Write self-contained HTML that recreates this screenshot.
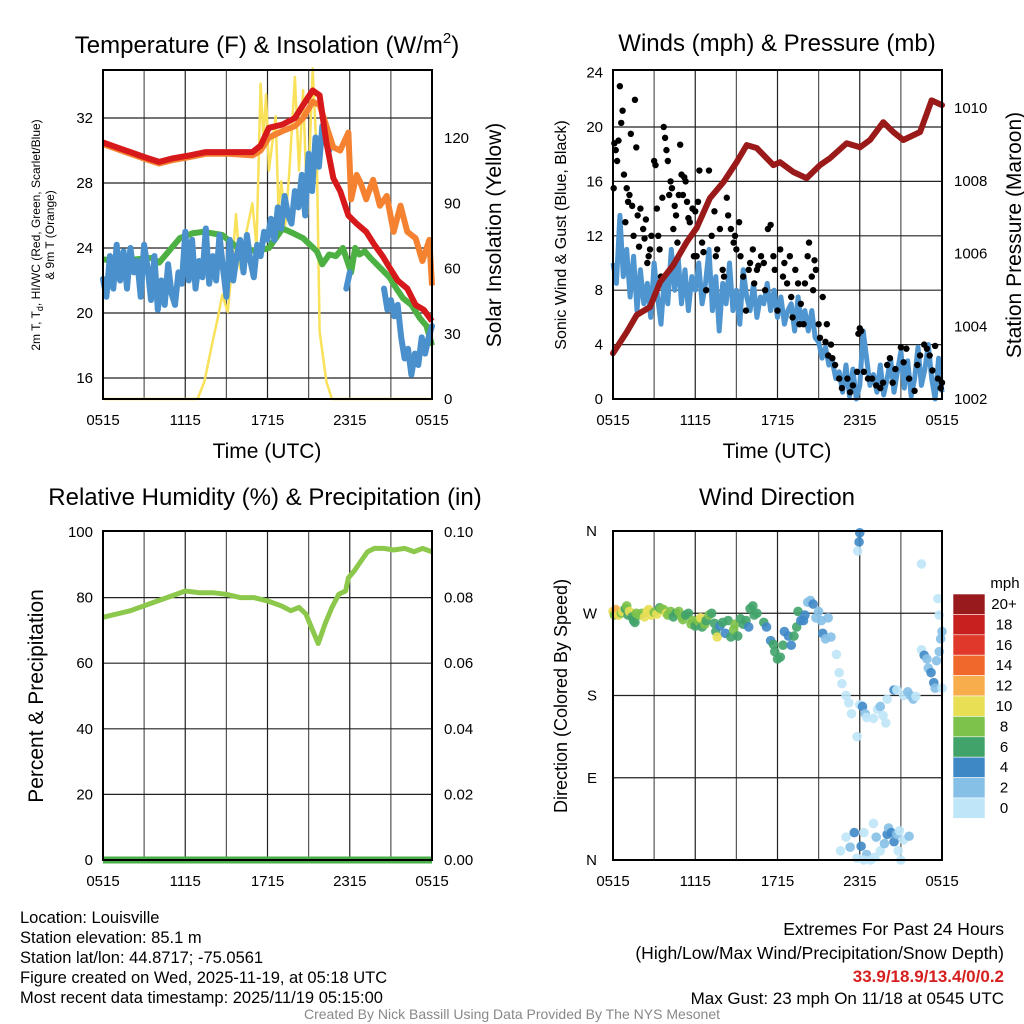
<!DOCTYPE html>
<html><head><meta charset="utf-8"><style>
body{margin:0;background:#fff;}
svg{display:block;font-family:"Liberation Sans",sans-serif;}
</style></head><body>
<svg id="chart" width="1024" height="1024" viewBox="0 0 1024 1024"></svg>
<script>
// ---------- DATA ----------
// Panel 1: temperatures (F), time in hours since 0515 UTC
const redH=[0,1,2,3,4.1,5,6.3,7.5,9.2,10.9,11.5,12.1,13.1,14,14.6,15.3,15.8,16.3,16.8,17.3,17.9,18.5,19.2,19.8,20.4,20.9,21.5,22.2,22.8,23.4,24];
const redT=[30.5,30.2,29.9,29.6,29.3,29.5,29.7,29.9,29.9,29.9,30.3,31.4,31.6,32,32.8,33.7,33.4,30.5,28.3,27.5,26,25.5,25,24.2,23.5,22.8,22,21.5,20.5,20.2,19.5];
const orgH=[0,1,2,3,4.1,5,6.3,7.5,9.2,10.9,11.5,12.1,13.1,14,14.6,15.3,15.8,16.3,16.8,17.3,17.9,18.1,18.5,18.8,19.2,19.7,20.2,20.7,21.2,21.7,22.2,22.8,23.3,23.8,24];
const orgT=[30.4,30.1,29.8,29.5,29.2,29.4,29.6,29.8,29.8,29.7,30,30.8,31.2,31.5,32,33,32.8,31.5,30.2,30,31.1,27,28.5,28,27,28.2,26.6,27.2,25,26.6,25,24.6,23.2,24.5,21.7];
const grnH=[0,1,2.4,3.6,4.1,5,5.6,6.5,7.3,8.7,9.7,11.2,12.1,13.1,13.9,14.6,15.6,16,16.5,17,17.5,18.1,18.4,18.7,19.1,19.5,20.2,20.9,21.4,21.9,22.5,23.1,23.6,24];
const grnT=[23.3,23.2,23.3,23.4,23.1,24,24.6,24.9,25,24.8,24.1,23.8,24,25.2,24.9,24.6,23.8,23,23.6,23.5,24,22.5,24,23.6,23.8,23.4,22.8,22.2,21.5,20.9,20.5,19.7,19.2,18];
const blueT=[22.1,21,23.5,21.5,24.2,22,23.8,21.5,24,
22.5,23.2,21,24.2,22.8,20.8,23.5,20.2,
22,20.5,23,21.2,20.5,22.5,21.8,25,
22,24.5,21.5,23.2,22.2,25.2,21.8,23.5,
22,24.8,22.8,21,24.5,22,23.5,24.5,
22.5,24.8,23.2,22.2,24.2,23.5,25,24.5,
25.8,24.5,26.5,25.2,27.2,26,25.5,27.5,
26.5,28.5,26,29.8,27.5,30.8,29,31.5,
30.5,30,null,null,null,null,21.5,22.5,
null,null,null,null,null,null,null,null,null,
21.5,20.2,20.8,19.8,20.5,18.5,17.2,17.8,16.2,17.5,16.8,18.5,17.5,18.5,19.2];
const solarH=[0,6.9,7.4,7.9,8.4,8.7,9.1,9.4,9.7,10,10.4,10.9,11.2,11.5,11.7,11.9,12.1,12.3,12.6,12.8,13,13.3,13.6,14,14.3,14.6,14.9,15.3,15.6,15.8,16.3,16.7,24];
const solarW=[0,0,8,23.5,38,48,40,60,85,60,75,90,70,145,120,140,105,115,130,87,100,80,105,148,105,142,85,152,110,31,8,0,0];
// Panel 2: winds (mph) and pressure (mb)
const windV=[10,8.5,13.5,9,11,7.5,10.5,6.5,9.5,
7,8.5,6,10,7.5,5.5,9,7,
11,8,10.5,7,9.5,6.5,9,8,
10,7,8.5,11,6.5,9,5,8.5,
7,10,6.5,8,5.5,9.5,7.5,6.5,
8.5,6,7.5,7,8.5,6.5,8,6,
7.5,5.5,6.5,7,5,7.5,5.5,6.5,
5,6.5,4.5,4.2,3,3.8,2.5,2.8,
1.5,2,0.5,2.5,0.2,2.2,0,1,
5,3,1,1.8,0.5,2.5,0.3,1.5,
3,0.5,2,3.5,0.8,2.8,0.2,1.5,
3.8,1,2.2,4,1.5,0,3,0.5];
const gustH=[0.05,0.1,0.2,0.3,0.4,0.5,0.6,0.7,0.8,0.9,1.0,1.1,1.2,1.3,1.4,1.5,1.6,1.7,1.8,1.9,2.0,2.2,2.3,2.4,2.5,2.6,2.7,2.8,3.0,3.1,3.2,3.3,3.4,3.5,3.6,3.7,3.8,3.9,4.0,4.1,4.2,4.3,4.4,4.5,4.6,4.7,4.8,4.9,5.0,5.1,5.2,5.3,5.4,5.5,5.6,5.8,5.9,6.0,6.1,6.2,6.3,6.5,6.6,6.8,7.0,7.2,7.4,7.5,7.6,7.8,8.0,8.1,8.3,8.4,8.6,8.8,8.9,9.0,9.2,9.3,9.5,9.7,9.9,10.0,10.2,10.3,10.5,10.6,10.8,11.0,11.1,11.3,11.5,11.7,11.8,12.0,12.2,12.4,12.5,12.7,12.9,13.0,13.1,13.3,13.5,13.6,13.7,13.9,14.0,14.2,14.3,14.5,14.6,14.7,14.8,15.0,15.1,15.3,15.5,15.6,15.7,15.9,16.0,16.2,16.5,16.7,17.1,17.3,17.5,17.8,17.9,18.0,18.1,18.3,18.6,18.9,19.2,19.5,19.7,20.0,20.2,20.4,20.6,21.0,21.2,21.4,21.6,22.0,22.2,22.4,22.7,22.9,23.1,23.3,23.5,23.7,23.9,24.0];
const gustV=[15.5,18.8,18.3,17.5,19,23,20.3,21.2,16.5,13,15.5,14.5,15,19.5,14.2,12,22,18.5,13.5,11.2,14,12.5,11.8,13.2,10,10.5,11,12,17.5,17.2,14,12,11,9,14.8,20,19.2,18.3,17.5,15,16,15.5,12.5,14.2,13.5,11.5,15,18.7,16.5,15,16.3,16,14.5,13.3,13,14,10.5,13.8,10.5,14.5,16.8,11.5,10.8,8,16.8,12,13.8,10.5,11,12.5,9.5,9,14.8,13.5,12.5,11.5,12,11,13,10.5,9,6.5,9.5,10,11,8.5,9.5,9.8,10.5,10,8,12.5,12.8,10.5,9.5,6.5,11,9,10,8.5,10.5,7.5,6,9.5,8.5,5.5,7,5.5,8.5,10.5,11.5,9,8,10.2,9.5,5.5,4.5,7.5,4.2,5.5,3.2,4,3,2.5,1.5,0.8,1.5,0.5,1,2,4.8,5.2,5,2,1.5,1.5,1,0.8,1.2,2.5,3,1.2,2.2,3.8,2.7,3.7,1.5,0.6,2.5,3.2,4,3.7,3.2,2.1,3.9,1.5,0.8,1.2];
const presH=[0,1.0,1.73,2.7,3.43,4.4,5.37,6.1,7.07,8.05,9.02,9.75,10.48,11.7,12.18,13.15,14.12,15.1,15.83,17.04,18.02,18.75,19.72,20.45,21.18,22.4,23.24,24];
const presMb=[1003.26,1003.84,1004.31,1004.53,1005.21,1005.68,1006.31,1006.7,1007.52,1007.96,1008.51,1008.98,1008.9,1008.43,1008.51,1008.24,1008.07,1008.43,1008.62,1009.03,1008.92,1009.12,1009.61,1009.34,1009.12,1009.34,1010.21,1010.08];
// Panel 3: RH (%) and precip (in)
const rhH=[0,1,2,3,4,5,6,7,8,9,10,11,12,13,13.7,14.3,14.8,15.3,15.7,16.2,16.7,17.2,17.7,17.9,18.3,18.8,19.3,19.8,20.5,21.2,22,22.7,23.3,24];
const rhV=[74,75,76,77.5,79,80.5,82,81.5,81.5,81,80,80,79,77.5,76,77,75,70,66,72,77,81,82,86,88,91,94,95,95,94.5,95,94,95,94];
const precipH=[0,24];
const precipV=[0,0];
// Panel 4: wind direction (deg) colored by speed (mph)
const dirH=[0,0.1,0.2,0.3,0.4,0.6,0.7,0.9,1.0,1.1,1.2,1.4,1.5,1.6,1.7,1.9,2.1,2.3,2.5,2.6,2.8,3.0,3.2,3.4,3.5,3.7,3.9,4.0,4.2,4.4,4.6,4.8,5.0,5.1,5.3,5.5,5.7,5.8,6.0,6.2,6.4,6.5,6.7,6.8,7.0,7.2,7.4,7.5,7.6,7.8,8.0,8.2,8.4,8.6,8.8,8.9,9.1,9.3,9.5,9.7,9.9,10.0,10.2,10.3,10.5,11.0,11.2,11.5,11.7,11.8,12.0,12.2,12.4,12.5,12.8,13.0,13.2,13.4,13.5,13.7,13.9,14.0,14.2,14.4,14.6,14.8,15.0,15.2,15.3,15.5,15.7,15.9,16.3,16.5,16.7,17.0,17.2,17.4,17.8,18.0,18.2,18.4,18.5,19.0,19.3,19.5,19.7,19.9,20.0,20.5,20.7,21.2,21.5,21.7,21.9,22.1,22.5,22.7,22.9,23.0,23.2,23.4,23.5,23.6,23.8,23.9,24.0,24.0,23.8,23.7,22.5,18.0,17.95,17.85,16.6,17.0,17.3,17.6,17.8,18.1,18.3,18.5,18.8,19.0,19.2,19.5,19.8,20.0,20.1,20.3,20.5,20.7,20.8,21.0,19.1,18.3,21.2,21.6,20.9];
const dirDeg=[272,268,274,270,268,270,272,275,278,268,272,266,262,260,270,268,270,266,272,274,268,271,269,276,275,274,270,268,272,266,270,272,266,263,268,270,258,262,256,262,265,255,258,262,268,270,259,250,244,256,260,248,262,244,252,258,245,264,258,262,255,275,278,268,270,260,255,240,236,228,220,222,235,250,245,235,245,255,272,262,262,268,282,284,280,265,272,262,248,242,265,244,225,205,193,180,172,160,135,170,168,160,156,155,165,168,158,150,176,186,186,180,184,180,176,179,230,224,220,210,205,194,188,218,228,242,250,188,268,286,324,358,348,338,10,25,14,30,2,15,30,6,0,40,25,10,18,28,35,30,20,28,10,0,3,0,22,26,32];
const dirSpd=[10,9,12,13,11,8,10,6,8,7,10,7,7,6,8,8,9,10,10,10,11,8,10,7,8,8,10,9,8,7,6,8,8,9,7,6,8,8,7,8,10,6,8,7,8,6,6,6,10,5,7,5,6,6,8,8,6,7,6,6,5,6,6,6,6,6,4,4,6,6,6,6,6,5,4,4,6,6,6,4,4,4,3,3,4,3,3,3,4,3,3,2,1,1,1,1,1,1,1,1,4,3,1,1,1,2,1,1,1,4,1,1,2,3,3,1,1,4,3,3,4,4,2,2,2,2,3,1,1,1,1,4,4,1,1,1,2,4,1,4,1,3,1,1,2,1,2,4,3,4,4,2,1,1,1,1,1,3,1];
const xTickLabels=["0515","1115","1715","2315","0515"];
const cbLabels=["20+","18","16","14","12","10","8","6","4","2","0"];
const cbColors=["#981a1c","#c8201f","#e0392b","#f0682c","#f8ad4c","#e8df55","#7dc24a","#41a36a","#3f88c6","#86c0e7","#bfe5f8"];

// ---------- HELPERS ----------
const NS="http://www.w3.org/2000/svg";
const svg=document.getElementById('chart');
function mk(tag,attrs,parent,text){const e=document.createElementNS(NS,tag);for(const k in attrs)e.setAttribute(k,attrs[k]);if(text!==undefined)e.textContent=text;(parent||svg).appendChild(e);return e;}
function lin(d0,d1,r0,r1){return v=>r0+(v-d0)*(r1-r0)/(d1-d0);}
function pathFrom(xs,ys,fx,fy){let d="",pen=false;for(let i=0;i<xs.length;i++){if(ys[i]===null){pen=false;continue;}d+=(pen?"L":"M")+fx(xs[i]).toFixed(1)+","+fy(ys[i]).toFixed(1);pen=true;}return d;}
function spdColor(s){let idx=Math.min(10,Math.floor(s/2));return cbColors[10-idx];}

function frame(g,x0,y0,x1,y1,hLines){
  for(let k=1;k<8;k++){const x=x0+(x1-x0)*k/8;
    const l=mk('line',{x1:x,y1:y0,x2:x,y2:y1,stroke:k%2?'#555':'#222','stroke-width':1.2},g);
    
    }
  hLines.forEach(y=>{const l=mk('line',{x1:x0,y1:y,x2:x1,y2:y,stroke:'#222','stroke-width':1.2},g);
    
    });
}
function border(g,x0,y0,x1,y1){const r=mk('rect',{x:x0,y:y0,width:x1-x0,height:y1-y0,fill:'none',stroke:'#000','stroke-width':2},g);
  
  }
function xTicks(g,x0,x1,y){xTickLabels.forEach((t,i)=>{const x=x0+(x1-x0)*i/4;
  const e=mk('text',{x:x,y:y,'font-size':15,'text-anchor':'middle'},g,t);
  
  });}
function txt(g,x,y,s,size,anchor,name,extra){const e=mk('text',Object.assign({x:x,y:y,'font-size':size,'text-anchor':anchor||'start'},extra||{}),g,s);
  
  return e;}

// ---------- PANEL 1 ----------
(function(){
  const g=mk('g',{});
  
  
  const X0=103,X1=432,Y0=70,Y1=399;
  const fx=lin(0,24,X0,X1), fy=lin(16,32,378,118), fw=lin(0,120,399,138);
  frame(g,X0,Y0,X1,Y1,[16,20,24,28,32].map(fy));
  const ys=mk('path',{d:pathFrom(solarH,solarW,fx,fw),fill:'none',stroke:'#f9e15a','stroke-width':2.5,'stroke-linejoin':'round'},g);
  
  
  const go=mk('path',{d:pathFrom(grnH,grnT,fx,fy),fill:'none',stroke:'#4cb043','stroke-width':6,'stroke-linejoin':'round'},g);
  
  
  const bh=blueT.map((v,i)=>i*0.25);
  const bl=mk('path',{d:pathFrom(bh,blueT,fx,fy),fill:'none',stroke:'#4a90cc','stroke-width':6,'stroke-linejoin':'round','stroke-linecap':'round'},g);
  
  
  const or=mk('path',{d:pathFrom(orgH,orgT,fx,fy),fill:'none',stroke:'#f58230','stroke-width':6,'stroke-linejoin':'round'},g);
  
  
  const rd=mk('path',{d:pathFrom(redH,redT,fx,fy),fill:'none',stroke:'#d7191c','stroke-width':6,'stroke-linejoin':'round'},g);
  
  
  border(g,X0,Y0,X1,Y1);
  [16,20,24,28,32].forEach(v=>txt(g,X0-10,fy(v)+5,String(v),15,'end','left-y-tick-label'));
  [0,30,60,90,120].forEach(v=>txt(g,X1+12,fw(v)+5,String(v),15,'start','right-y-tick-label'));
  xTicks(g,X0,X1,425);
  txt(g,267,458,'Time (UTC)',21,'middle','x-axis-title');
  const t=txt(g,267,53,'Temperature (F) & Insolation (W/m',24,'middle','panel-title');
  mk('tspan',{dy:-10,'font-size':15},t,'2');
  mk('tspan',{dy:10},t,')');
  const yl=txt(g,0,0,'',12,'middle','left-y-axis-title',{transform:'translate(40,235) rotate(-90)'});
  yl.innerHTML='2m T, T<tspan font-size="9" dy="3">d</tspan><tspan dy="-3">, HI/WC (Red, Green, Scarlet/Blue)</tspan>';
  txt(g,0,0,'& 9m T (Orange)',12,'middle','left-y-axis-title-line2',{transform:'translate(54,235) rotate(-90)'});
  txt(g,0,0,'Solar Insolation (Yellow)',21,'middle','right-y-axis-title',{transform:'translate(501,235) rotate(-90)'});
})();

// ---------- PANEL 2 ----------
(function(){
  const g=mk('g',{});
  
  
  const X0=613,X1=942,Y0=70,Y1=399;
  const fx=lin(0,24,X0,X1), fy=lin(0,24,399,72.6), fp=lin(1002,1010,399,108);
  frame(g,X0,Y0,X1,Y1,[4,8,12,16,20].map(fy));
  const wh=windV.map((v,i)=>i*0.25);
  const wl=mk('path',{d:pathFrom(wh,windV,fx,fy),fill:'none',stroke:'#4f95d0','stroke-width':5,'stroke-linejoin':'round'},g);
  
  
  gustH.forEach((h,i)=>{const c=mk('circle',{cx:fx(h),cy:fy(gustV[i]),r:3.2,fill:'#000'},g);
    
    });
  const pl=mk('path',{d:pathFrom(presH,presMb,fx,fp),fill:'none',stroke:'#9a1a1a','stroke-width':6,'stroke-linejoin':'round','stroke-linecap':'round'},g);
  
  
  border(g,X0,Y0,X1,Y1);
  [0,4,8,12,16,20,24].forEach(v=>txt(g,X0-10,fy(v)+5,String(v),15,'end','left-y-tick-label'));
  [1002,1004,1006,1008,1010].forEach(v=>txt(g,X1+12,fp(v)+5,String(v),15,'start','right-y-tick-label'));
  xTicks(g,X0,X1,425);
  txt(g,777,458,'Time (UTC)',21,'middle','x-axis-title');
  txt(g,777,51,'Winds (mph) & Pressure (mb)',24,'middle','panel-title');
  txt(g,0,0,'Sonic Wind & Gust (Blue, Black)',16,'middle','left-y-axis-title',{transform:'translate(566,235) rotate(-90)'});
  txt(g,0,0,'Station Pressure (Maroon)',21,'middle','right-y-axis-title',{transform:'translate(1021,235) rotate(-90)'});
})();

// ---------- PANEL 3 ----------
(function(){
  const g=mk('g',{});
  
  
  const X0=103,X1=432,Y0=531,Y1=860;
  const fx=lin(0,24,X0,X1), fy=lin(0,100,860,532), fp=lin(0,0.1,860,532);
  frame(g,X0,Y0,X1,Y1,[20,40,60,80].map(fy));
  const rl=mk('path',{d:pathFrom(rhH,rhV,fx,fy),fill:'none',stroke:'#8cc84b','stroke-width':5,'stroke-linejoin':'round'},g);
  
  
  const pp=mk('path',{d:pathFrom(precipH,precipV,fx,fp),fill:'none',stroke:'#4aae48','stroke-width':7},g);
  
  
  border(g,X0,Y0,X1,Y1);
  [0,20,40,60,80,100].forEach(v=>txt(g,X0-10,fy(v)+5,String(v),15,'end','left-y-tick-label'));
  [0,0.02,0.04,0.06,0.08,0.1].forEach(v=>txt(g,X1+12,fp(v)+5,v.toFixed(2),15,'start','right-y-tick-label'));
  xTicks(g,X0,X1,886);
  txt(g,265,505,'Relative Humidity (%) & Precipitation (in)',24,'middle','panel-title');
  txt(g,0,0,'Percent & Precipitation',21,'middle','left-y-axis-title',{transform:'translate(43,696) rotate(-90)'});
})();

// ---------- PANEL 4 ----------
(function(){
  const g=mk('g',{});
  
  
  const X0=613,X1=942,Y0=531,Y1=860;
  const fx=lin(0,24,X0,X1), fy=lin(0,360,860,531);
  frame(g,X0,Y0,X1,Y1,[90,180,270].map(fy));
  dirH.forEach((h,i)=>{const c=mk('circle',{cx:fx(h),cy:fy(dirDeg[i]),r:4.8,fill:spdColor(dirSpd[i]),'fill-opacity':0.9},g);
    
    });
  border(g,X0,Y0,X1,Y1);
  [['N',0],['E',90],['S',180],['W',270],['N',360]].forEach(p=>txt(g,X0-16,fy(p[1])+5,p[0],15,'end','direction-tick-label'));
  xTicks(g,X0,X1,886);
  txt(g,777,505,'Wind Direction',24,'middle','panel-title');
  txt(g,0,0,'Direction (Colored By Speed)',18,'middle','left-y-axis-title',{transform:'translate(567,696) rotate(-90)'});
  const cb=mk('g',{},g);
  
  
  txt(cb,1005,588,'mph',15,'middle','colorbar-title');
  cbColors.forEach((c,i)=>{const r=mk('rect',{x:953,y:594+i*20.4,width:32,height:20.4,fill:c,stroke:'#fff','stroke-width':0.6},cb);
    
    
    txt(cb,1004,594+i*20.4+15,cbLabels[i],15,'middle','colorbar-label');});
})();

// ---------- FOOTER TEXT ----------
(function(){
  const g=mk('g',{});
  
  
  ['Location: Louisville','Station elevation: 85.1 m','Station lat/lon: 44.8717; -75.0561','Figure created on Wed, 2025-11-19, at 05:18 UTC','Most recent data timestamp: 2025/11/19 05:15:00'].forEach((s,i)=>txt(g,20,923+i*20,s,16.5,'start','station-info-line'));
  const r=mk('g',{});
  
  
  txt(r,1004,935,'Extremes For Past 24 Hours',17.5,'end','extremes-title');
  txt(r,1004,959,'(High/Low/Max Wind/Precipitation/Snow Depth)',17.5,'end','extremes-subtitle');
  txt(r,1004,982,'33.9/18.9/13.4/0/0.2',17,'end','extremes-values',{fill:'#d62020','font-weight':'bold'});
  txt(r,1004,1004,'Max Gust: 23 mph On 11/18 at 0545 UTC',17,'end','max-gust');
  txt(svg,512,1019,'Created By Nick Bassill Using Data Provided By The NYS Mesonet',14,'middle','credit-line',{fill:'#888'});
})();
</script>
</body></html>
